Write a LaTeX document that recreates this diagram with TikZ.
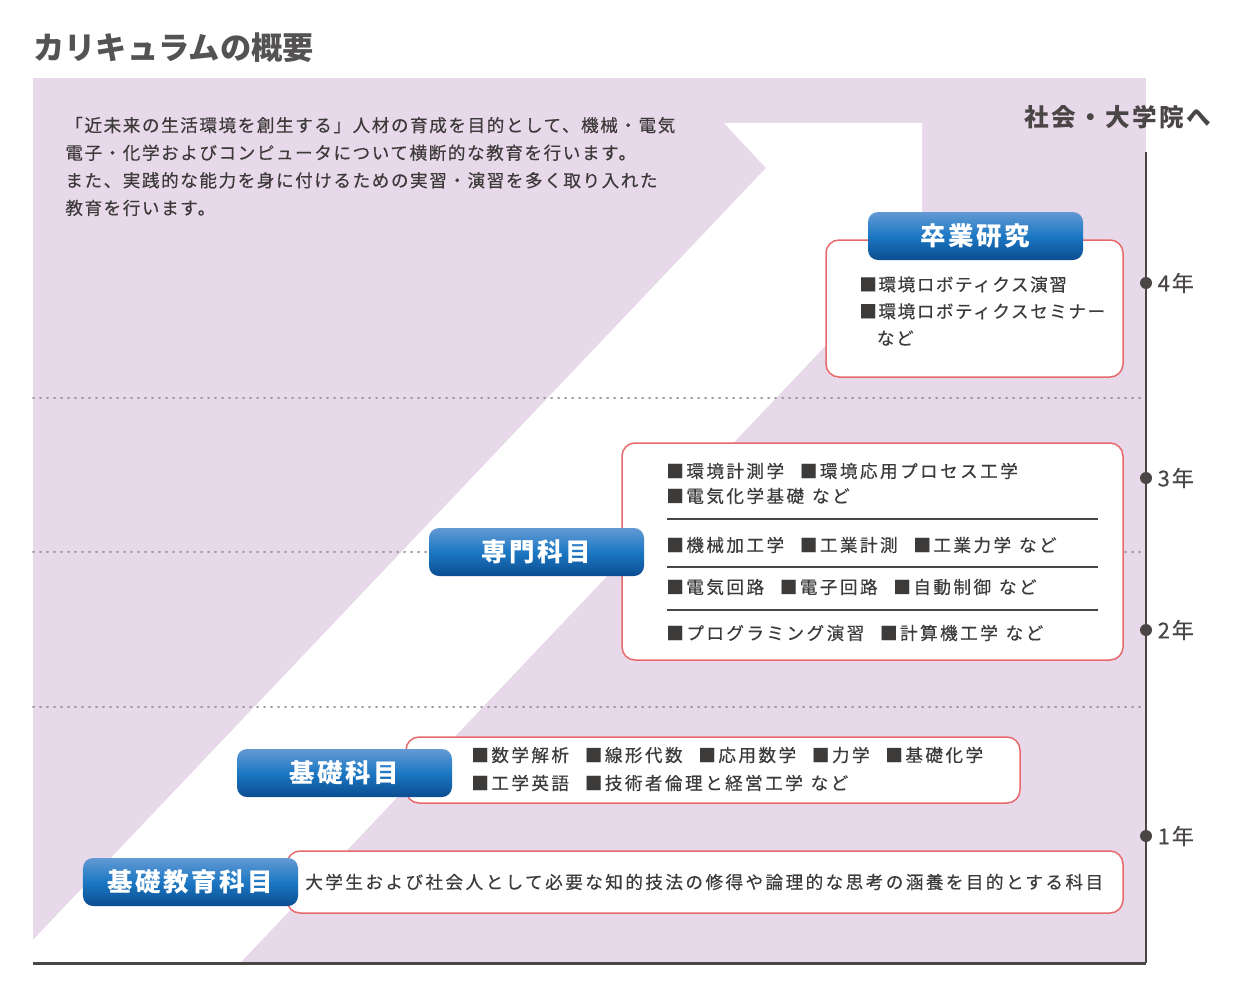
\documentclass[tikz,border=0pt]{standalone}
\usepackage{fontspec}
\setmainfont{Noto Sans CJK JP}
\newfontfamily\jpfont[LetterSpace=9,FakeBold=0.4]{Noto Sans CJK JP}
\newfontfamily\jpwide[LetterSpace=14,FakeBold=0.4]{Noto Sans CJK JP}
\newfontfamily\jptag[LetterSpace=10]{Noto Sans CJK JP}
\usepackage{tikz}
\usetikzlibrary{positioning}

\definecolor{bgPurple}{HTML}{E8D9EA}
\definecolor{axisGray}{HTML}{4A4646}
\definecolor{txtGray}{HTML}{3D3A3A}
\definecolor{titleGray}{HTML}{555252}
\definecolor{boxRed}{HTML}{E8696B}
\definecolor{dotGray}{HTML}{9E989E}
\definecolor{tagTop}{HTML}{6399D4}
\definecolor{tagMid}{HTML}{1C78C3}
\definecolor{tagBottom}{HTML}{0B4D91}

\newcommand{\gap}{\hspace{0.9em}}
\newcommand{\etcgap}{\hspace{0.45em}}

\begin{document}
\begin{tikzpicture}[
      x=0.2mm, y=-0.2mm,
      bodyText/.style={
        font=\jpwide\fontsize{10}{15.6}\selectfont, text=txtGray,
        align=left, inner sep=0pt, anchor=west
      },
      itemBox/.style={
        draw=boxRed, line width=0.3mm, fill=white, rounded corners=2.6mm,
        inner sep=0pt
      },
      blueTag/.style={
        rounded corners=2mm, top color=tagTop, bottom color=tagBottom, middle color=tagMid,
        text=white, font=\jptag\bfseries\fontsize{14.5}{16}\selectfont,
        minimum width=43mm, minimum height=9.6mm, inner sep=0pt
      },
      yearDot/.style={circle, fill=axisGray, inner sep=0pt, minimum size=2.4mm},
      yearLabel/.style={font=\jpfont\fontsize{12.5}{14}\selectfont, text=axisGray, inner sep=0pt},
      gridDots/.style={draw=dotGray, line width=0.4mm, dash pattern=on 0.2mm off 1.2mm, line cap=round},
      sepLine/.style={draw=axisGray, line width=0.35mm},
      axisLine/.style={draw=axisGray, line width=0.45mm}
    ]
      \useasboundingbox (0,0) rectangle (1238,987);

      % ---------- Background ----------
      \fill[bgPurple] (33,78) rectangle (1146,963);
      \fill[white] (33,940) -- (766,168) -- (724,123) -- (922,123) -- (922,244) -- (240,963) -- (33,963) -- cycle;

      % year borders
      \draw[gridDots] (33,398) -- (1146,398);
      \draw[gridDots] (33,552) -- (1146,552);
      \draw[gridDots] (33,707) -- (1146,707);

      % ---------- Title and intro ----------
      \node[anchor=west, inner sep=0pt, font=\bfseries\fontsize{17.8}{20}\selectfont, text=titleGray] (title) at (33,48) {カリキュラムの概要};
      \node[bodyText, font=\jpfont\fontsize{10}{15.7}\selectfont] (intro) at (65,166.5)
        {「近未来の生活環境を創生する」人材の育成を目的として、機械・電気\\
         電子・化学およびコンピュータについて横断的な教育を行います。\\
         また、実践的な能力を身に付けるための実習・演習を多く取り入れた\\
         教育を行います。};

      % ---------- Axis ----------
      \coordinate (axisTop) at (1146,152);
      \coordinate (axisBottom) at (1146,963);
      \coordinate (axisLeft) at (33,963);
      \draw[axisLine] (axisTop) -- (axisBottom);
      \draw[axisLine, line width=0.6mm] (axisLeft) -- (axisBottom);
      \node[anchor=west, inner sep=0pt, font=\jptag\bfseries\fontsize{14}{16}\selectfont, text=axisGray] (goal) at (1024,117) {社会・大学院へ};

      \node[yearDot] (dot4) at (1146,283) {};
      \node[yearDot] (dot3) at (1146,478) {};
      \node[yearDot] (dot2) at (1146,630) {};
      \node[yearDot] (dot1) at (1146,836) {};
      \node[yearLabel, right=1mm of dot4] (yr4) {4年};
      \node[yearLabel, right=1mm of dot3] (yr3) {3年};
      \node[yearLabel, right=1mm of dot2] (yr2) {2年};
      \node[yearLabel, right=1mm of dot1] (yr1) {1年};

      % ---------- 卒業研究 ----------
      \node[itemBox, minimum width=59.4mm, minimum height=27.4mm] (gradBox) at (974.5,308.5) {};
      \node[bodyText, font=\jpfont\fontsize{10}{15.3}\selectfont] (gradItems) at (859,311)
        {■環境ロボティクス演習\\■環境ロボティクスセミナー\\\phantom{■}など};
      \node[blueTag] (gradTag) at (975.5,236) {卒業研究};

      % ---------- 専門科目 ----------
      \node[itemBox, minimum width=100.2mm, minimum height=43.4mm] (specBox) at (872.5,551.5) {};
      \node[bodyText, font=\jpwide\fontsize{10}{14.2}\selectfont] (specRowA) at (666,483.5)
        {■環境計測学\gap■環境応用プロセス工学\\■電気化学基礎\etcgap など};
      \draw[sepLine] (667,519) -- (1098,519);
      \node[bodyText] (specRowB) at (666,545) {■機械加工学\gap■工業計測\gap■工業力学\etcgap など};
      \draw[sepLine] (667,567) -- (1098,567);
      \node[bodyText] (specRowC) at (666,587) {■電気回路\gap■電子回路\gap■自動制御\etcgap など};
      \draw[sepLine] (667,610) -- (1098,610);
      \node[bodyText] (specRowD) at (666,633) {■プログラミング演習\gap■計算機工学\etcgap など};
      \node[blueTag] (specTag) at (536.5,552) {専門科目};

      % ---------- 基礎科目 ----------
      \node[itemBox, minimum width=122.8mm, minimum height=13.2mm] (basicBox) at (713,770) {};
      \node[bodyText, font=\jpwide\fontsize{10}{15.9}\selectfont] (basicItems) at (471,769)
        {■数学解析\gap■線形代数\gap■応用数学\gap■力学\gap■基礎化学\\■工学英語\gap■技術者倫理と経営工学\etcgap など};
      \node[blueTag] (basicTag) at (344.5,773) {基礎科目};

      % ---------- 基礎教育科目 ----------
      \node[itemBox, minimum width=167.2mm, minimum height=12.4mm] (genBox) at (705,882) {};
      \node[bodyText] (genText) at (305,882) {大学生および社会人として必要な知的技法の修得や論理的な思考の涵養を目的とする科目};
      \node[blueTag] (genTag) at (190.5,882) {基礎教育科目};

    \end{tikzpicture}
\end{document}
